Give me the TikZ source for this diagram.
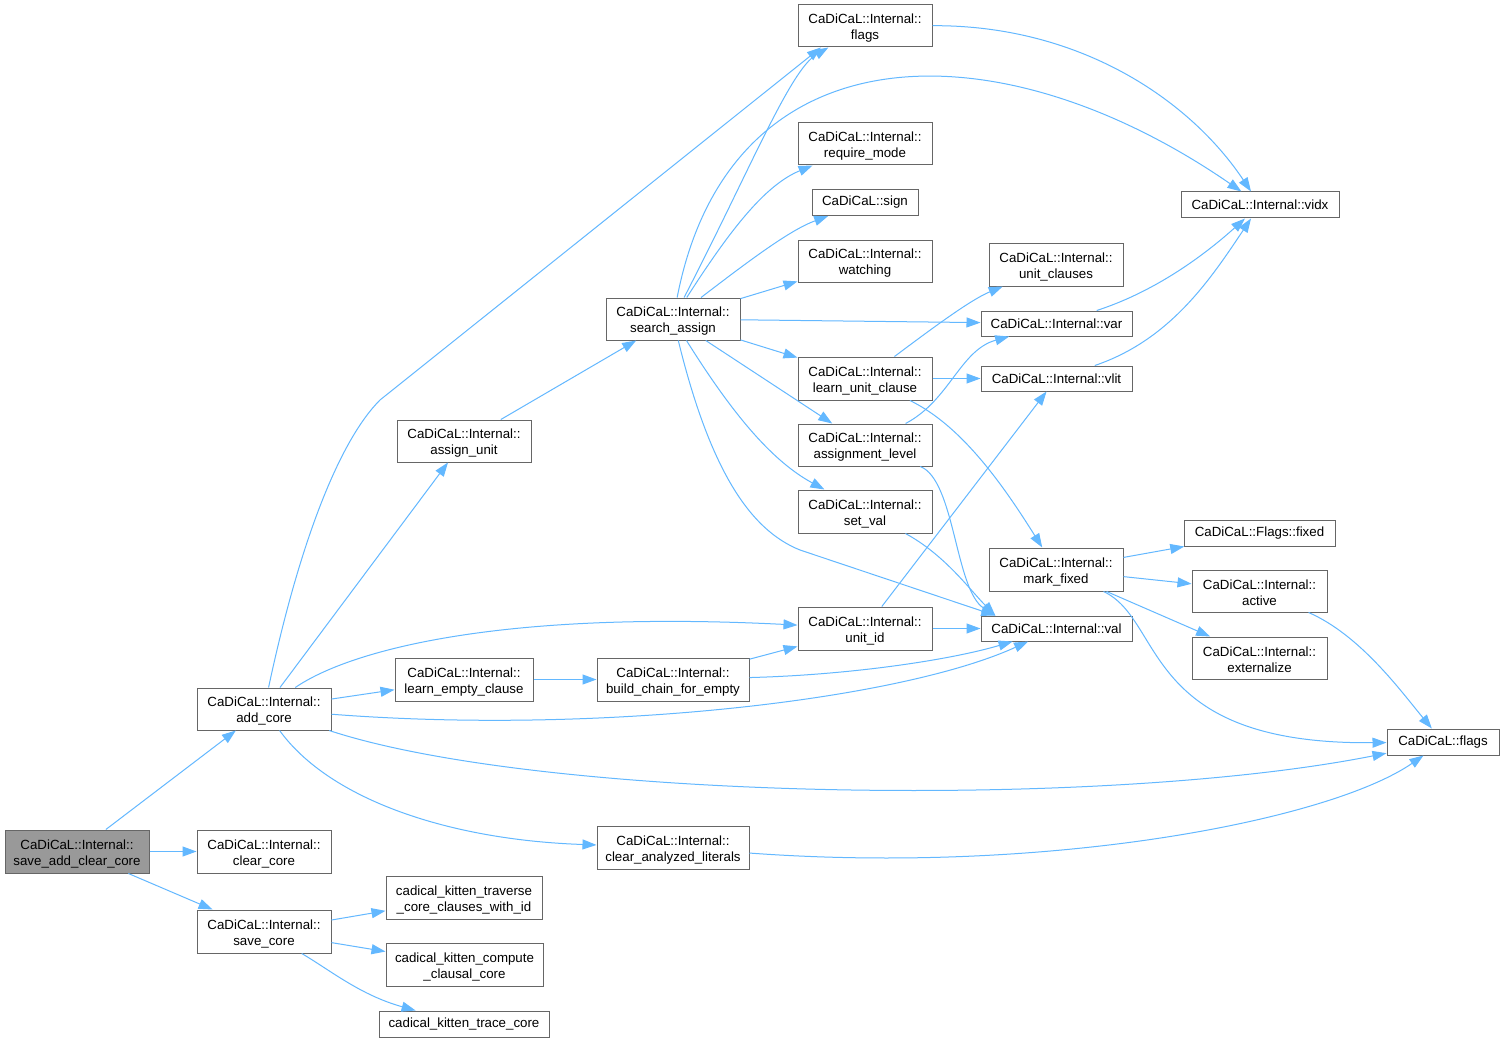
\documentclass[tikz,border=0pt]{standalone}
\usepackage{fontspec}
\setmainfont{Liberation Sans}
\usetikzlibrary{arrows.meta}
\definecolor{edgec}{HTML}{63B8FF}
\definecolor{borderc}{HTML}{666666}
\definecolor{rootc}{HTML}{999999}
\newcommand{\ftop}{\rule{0pt}{14pt}}
\begin{document}
\begin{tikzpicture}[x=1pt,y=-1pt,
  fn/.style={draw=borderc,line width=1pt,fill=white,inner sep=0pt,align=center,
     font=\fontsize{13.3}{16}\selectfont,text=black},
  rootfn/.style={fn,fill=rootc},
  e/.style={draw=edgec,line width=1pt,-{Triangle[length=14pt,width=10pt]}}]
\useasboundingbox (0,0) rectangle (1504,1043);
\fill[white] (0,0) rectangle (1504,1043);
% nodes
\node[rootfn,minimum width=144,minimum height=43] (sacc) at (77,851.5) {\ftop CaDiCaL::Internal::\\save\_add\_clear\_core};
\node[fn,minimum width=134,minimum height=42] (addc) at (264,709) {\ftop CaDiCaL::Internal::\\add\_core};
\node[fn,minimum width=134,minimum height=43] (clrc) at (264,851.5) {\ftop CaDiCaL::Internal::\\clear\_core};
\node[fn,minimum width=134,minimum height=43] (savc) at (264,931.5) {\ftop CaDiCaL::Internal::\\save\_core};
\node[fn,minimum width=134,minimum height=42] (asgu) at (464,441) {\ftop CaDiCaL::Internal::\\assign\_unit};
\node[fn,minimum width=138,minimum height=43] (lemp) at (464,679.5) {\ftop CaDiCaL::Internal::\\learn\_empty\_clause};
\node[fn,minimum width=152,minimum height=43] (bcfe) at (673,679.5) {\ftop CaDiCaL::Internal::\\build\_chain\_for\_empty};
\node[fn,minimum width=152,minimum height=43] (cal) at (673,847.5) {\ftop CaDiCaL::Internal::\\clear\_analyzed\_literals};
\node[fn,minimum width=156,minimum height=43] (ktrav) at (464,897.5) {\ftop cadical\_kitten\_traverse\\\_core\_clauses\_with\_id};
\node[fn,minimum width=157,minimum height=43] (kcomp) at (464.5,964.5) {\ftop cadical\_kitten\_compute\\\_clausal\_core};
\node[fn,minimum width=170,minimum height=26] (ktrace) at (464,1024) {cadical\_kitten\_trace\_core};
\node[fn,minimum width=134,minimum height=42] (sasg) at (673,319) {\ftop CaDiCaL::Internal::\\search\_assign};
\node[fn,minimum width=134,minimum height=42] (iflags) at (865,26) {\ftop CaDiCaL::Internal::\\flags};
\node[fn,minimum width=134,minimum height=42] (reqm) at (865,144) {\ftop CaDiCaL::Internal::\\require\_mode};
\node[fn,minimum width=106,minimum height=26] (sign) at (865,202.5) {CaDiCaL::sign};
\node[fn,minimum width=134,minimum height=42] (watch) at (865,261) {\ftop CaDiCaL::Internal::\\watching};
\node[fn,minimum width=134,minimum height=43] (luc) at (865,378.5) {\ftop CaDiCaL::Internal::\\learn\_unit\_clause};
\node[fn,minimum width=134,minimum height=42] (alev) at (865,445) {\ftop CaDiCaL::Internal::\\assignment\_level};
\node[fn,minimum width=134,minimum height=43] (setv) at (865,511.5) {\ftop CaDiCaL::Internal::\\set\_val};
\node[fn,minimum width=134,minimum height=43] (uid) at (865,628.5) {\ftop CaDiCaL::Internal::\\unit\_id};
\node[fn,minimum width=134,minimum height=43] (ucl) at (1056,264.5) {\ftop CaDiCaL::Internal::\\unit\_clauses};
\node[fn,minimum width=151,minimum height=25] (var) at (1056.5,323.5) {CaDiCaL::Internal::var};
\node[fn,minimum width=151,minimum height=25] (vlit) at (1056.5,378.5) {CaDiCaL::Internal::vlit};
\node[fn,minimum width=134,minimum height=43] (mfix) at (1056,569.5) {\ftop CaDiCaL::Internal::\\mark\_fixed};
\node[fn,minimum width=151,minimum height=25] (val) at (1056.5,628.5) {CaDiCaL::Internal::val};
\node[fn,minimum width=158,minimum height=26] (vidx) at (1260,205) {CaDiCaL::Internal::vidx};
\node[fn,minimum width=151,minimum height=26] (ffix) at (1259.5,533) {CaDiCaL::Flags::fixed};
\node[fn,minimum width=135,minimum height=42] (actv) at (1259.5,591) {\ftop CaDiCaL::Internal::\\active};
\node[fn,minimum width=135,minimum height=42] (extz) at (1259.5,658) {\ftop CaDiCaL::Internal::\\externalize};
\node[fn,minimum width=112,minimum height=26] (cflags) at (1443,742) {CaDiCaL::flags};
% edges
\draw[e] (sacc) -- (addc);
\draw[e] (sacc) -- (clrc);
\draw[e] (sacc) -- (savc);
\draw[e] (addc) .. controls (300,540) and (340,440) .. (380,400) -- (iflags.206);
\draw[e] (addc) -- (asgu);
\draw[e] (addc) .. controls (350,650) and (500,610) .. (uid);
\draw[e] (addc) -- (lemp);
\draw[e] (addc) .. controls (600,735) and (900,700) .. (val);
\draw[e] (addc) .. controls (540,800) and (1100,810) .. (cflags);
\draw[e] (addc) .. controls (330,800) and (450,840) .. (cal);
\draw[e] (asgu) -- (sasg);
\draw[e] (lemp) -- (bcfe);
\draw[e] (bcfe) -- (uid);
\draw[e] (bcfe) .. controls (850,675) and (950,660) .. (val);
\draw[e] (cal) .. controls (1050,875) and (1330,820) .. (cflags);
\draw[e] (sasg) .. controls (750,170) and (790,70) .. (iflags);
\draw[e] (sasg) .. controls (730,25) and (1000,25) .. (vidx.144);
\draw[e] (sasg) .. controls (730,230) and (765,185) .. (reqm);
\draw[e] (sasg) .. controls (750,260) and (790,230) .. (sign);
\draw[e] (sasg) -- (watch);
\draw[e] (sasg) -- (var);
\draw[e] (sasg) -- (luc);
\draw[e] (sasg) -- (alev);
\draw[e] (sasg) .. controls (730,410) and (770,460) .. (setv);
\draw[e] (sasg) .. controls (710,470) and (750,530) .. (800,550) -- (val.168);
\draw[e] (iflags) .. controls (1080,25) and (1190,100) .. (vidx);
\draw[e] (luc) .. controls (930,330) and (970,300) .. (ucl);
\draw[e] (luc) -- (vlit);
\draw[e] (luc) .. controls (960,425) and (1000,480) .. (mfix);
\draw[e] (alev) .. controls (950,400) and (960,350) .. (var);
\draw[e] (alev) .. controls (955,480) and (955,590) .. (val.168);
\draw[e] (setv) .. controls (945,555) and (970,590) .. (val.168);
\draw[e] (uid) -- (val);
\draw[e] (uid) -- (vlit);
\draw[e] (var) .. controls (1160,290) and (1210,250) .. (vidx);
\draw[e] (vlit) .. controls (1170,340) and (1210,280) .. (vidx);
\draw[e] (mfix) -- (ffix);
\draw[e] (mfix) -- (actv);
\draw[e] (mfix) -- (extz);
\draw[e] (mfix) .. controls (1165,620) and (1140,745) .. (cflags);
\draw[e] (actv) .. controls (1360,635) and (1400,690) .. (cflags);
\draw[e] (savc) -- (ktrav);
\draw[e] (savc) -- (kcomp);
\draw[e] (savc) .. controls (330,970) and (360,995) .. (ktrace);
\end{tikzpicture}
\end{document}
